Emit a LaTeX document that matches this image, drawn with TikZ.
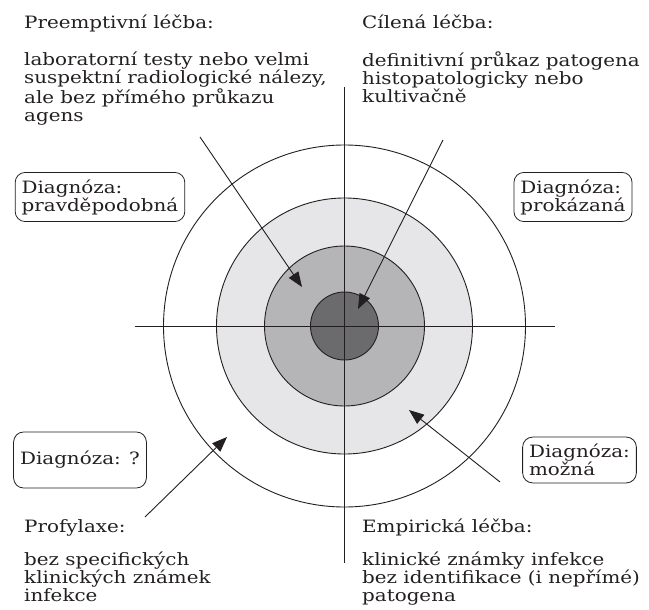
\documentclass[tikz,border=0pt]{standalone}
\usepackage{fontspec}
\setmainfont[FakeStretch=1.17]{DejaVu Serif}
\usepackage{tikz}
\usetikzlibrary{arrows.meta}
\definecolor{ringD}{HTML}{6B6B6E}
\definecolor{ringM}{HTML}{B5B5B8}
\definecolor{ringL}{HTML}{E6E6E8}
\definecolor{inkG}{HTML}{231F20}

\begin{document}
\begin{tikzpicture}[
  x=1pt, y=-1pt,
  every node/.style={font=\fontsize{17}{18}\selectfont, text=inkG},
  txt/.style={anchor=north west, align=left, inner sep=0pt},
  head/.style={anchor=base west, inner sep=0pt},
  diag/.style={draw=inkG, line width=0.8pt, rounded corners=10pt, align=left,
               inner xsep=6.5pt, inner ysep=7pt},
  ring/.style={circle, draw=inkG, line width=0.9pt, inner sep=0pt},
  axis/.style={draw=inkG, line width=0.9pt},
  arr/.style={-{Triangle[length=15pt,width=11.5pt]}, line width=0.9pt, inkG}
]
  \useasboundingbox (0,0) rectangle (649,610);
  \coordinate (c) at (344.5,326);

  % target rings
  \node[ring, minimum size=362, fill=white] (outer) at (c) {};
  \node[ring, minimum size=256, fill=ringL] (light) at (c) {};
  \node[ring, minimum size=160, fill=ringM] (mid) at (c) {};
  \node[ring, minimum size=68, fill=ringD] (core) at (c) {};

  % axes
  \coordinate (axW) at (134.5,326);
  \coordinate (axE) at (554.5,326);
  \coordinate (axN) at (344.5,87);
  \coordinate (axS) at (344.5,563);
  \draw[axis] (axW) -- (axE);
  \draw[axis] (axN) -- (axS);

  % texts
  \node[head] (preH) at (24,29) {Preemptivní léčba:};
  \node[txt] (preT) at (24,52) {laboratorní testy nebo velmi\\ suspektní radiologické nálezy,\\ ale bez přímého průkazu\\ agens};
  \node[head] (cilH) at (362,29) {Cílená léčba:};
  \node[txt] (cilT) at (362,52) {definitivní průkaz patogena\\ histopatologicky nebo\\ kultivačně};
  \node[head] (proH) at (24,532) {Profylaxe:};
  \node[txt] (proT) at (24,552) {bez specifických\\ klinických známek\\ infekce};
  \node[head] (empH) at (362,532) {Empirická léčba:};
  \node[txt] (empT) at (362,552) {klinické známky infekce\\ bez identifikace (i nepřímé)\\ patogena};

  % diagnosis boxes
  \node[diag] (dPrav) at (100,197) {Diagnóza:\\ pravděpodobná};
  \node[diag] (dProk) at (573,197) {Diagnóza:\\ prokázaná};
  \node[diag, minimum height=56] (dNone) at (80,460) {Diagnóza: ?};
  \node[diag] (dMozn) at (579.5,460) {Diagnóza:\\ možná};

  % arrows into the rings
  \coordinate (preS) at (200,137);
  \coordinate (preE) at (302,287);
  \coordinate (cilS) at (443,140);
  \coordinate (cilE) at (358,309);
  \coordinate (empS) at (500,482);
  \coordinate (empE) at (409,410);
  \coordinate (proS) at (145,517);
  \coordinate (proE) at (227,437);
  \draw[arr] (preS) -- (preE);
  \draw[arr] (cilS) -- (cilE);
  \draw[arr] (empS) -- (empE);
  \draw[arr] (proS) -- (proE);
\end{tikzpicture}
\end{document}
